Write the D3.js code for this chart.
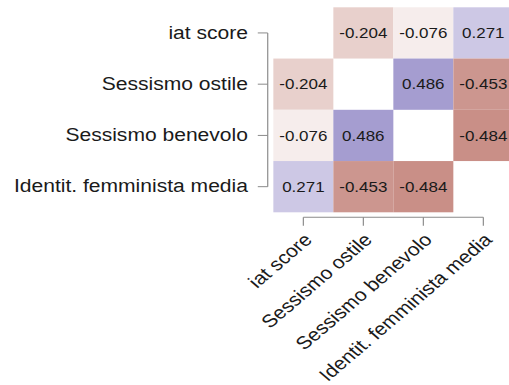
<!DOCTYPE html>
<html>
<head>
<meta charset="utf-8">
<script src="https://cdn.jsdelivr.net/npm/d3@7"></script>
<style>
  html, body { margin: 0; padding: 0; background: #fff; }
  svg { display: block; }
  text { font-family: "Liberation Sans", Arial, Helvetica, sans-serif; }
</style>
</head>
<body>
<svg id="chart"></svg>
<script>
// Variables of the correlation matrix (row/column order)
const variables = [
  "iat score",
  "Sessismo ostile",
  "Sessismo benevolo",
  "Identit. femminista media"
];

// Pairwise correlations (diagonal left empty)
const correlations = [
  [null,   -0.204, -0.076,  0.271],
  [-0.204,  null,   0.486, -0.453],
  [-0.076,  0.486,  null,  -0.484],
  [0.271,  -0.453, -0.484,  null ]
];

// Fill colours at r = -1, 0, +1
const fillStops = ["#8f1807", "#ffffff", "#46359e"];

const W = 509, H = 385;
const VW = 434.8; // square cells in the plot's own units, stretched on output

const svg = d3.select("#chart")
  .attr("width", W)
  .attr("height", H)
  .attr("viewBox", `0 0 ${VW} ${H}`)
  .attr("preserveAspectRatio", "none");

const x = d3.scaleBand().domain(variables).range([233.5, 438.5]).padding(0);
const y = d3.scaleBand().domain(variables).range([7.3, 212.3]).padding(0);
const color = d3.scaleLinear().domain([-1, 0, 1]).range(fillStops);

const cells = [];
correlations.forEach((row, i) => row.forEach((v, j) => {
  if (v !== null) cells.push({ row: variables[i], col: variables[j], value: v });
}));

// Tiles
svg.append("g").selectAll("rect")
  .data(cells)
  .join("rect")
  .attr("x", d => x(d.col))
  .attr("y", d => y(d.row))
  .attr("width", x.bandwidth())
  .attr("height", y.bandwidth())
  .attr("fill", d => color(d.value));

// Values in the tiles (plain hyphen for the sign)
svg.append("g").selectAll("text")
  .data(cells)
  .join("text")
  .attr("x", d => x(d.col) + x.bandwidth() / 2)
  .attr("y", d => y(d.row) + y.bandwidth() / 2)
  .attr("dy", "0.36em")
  .attr("text-anchor", "middle")
  .attr("font-size", 14.5)
  .attr("fill", "#1a1a1a")
  .text(d => d.value.toFixed(3));

const axisColor = "#8a8a8a";
const tickLen = 8.5;

// Left axis, line capped at the outer ticks
const yAxisX = 228.7;
const gy = svg.append("g")
  .attr("transform", `translate(${yAxisX},0)`)
  .call(d3.axisLeft(y).tickSize(tickLen).tickPadding(8.4));
gy.select(".domain").remove();
gy.append("line")
  .attr("x1", 0).attr("x2", 0)
  .attr("y1", y(variables[0]) + y.bandwidth() / 2)
  .attr("y2", y(variables[variables.length - 1]) + y.bandwidth() / 2)
  .attr("stroke", axisColor);
gy.selectAll(".tick line").attr("stroke", axisColor);
gy.selectAll(".tick text")
  .attr("font-size", 18)
  .attr("fill", "#1a1a1a")
  .attr("font-family", "'Liberation Sans', Arial, sans-serif");

// Bottom axis, same capped style, rotated labels
const xAxisY = 217.3;
const gx = svg.append("g")
  .attr("transform", `translate(0,${xAxisY})`)
  .call(d3.axisBottom(x).tickSize(tickLen));
gx.select(".domain").remove();
gx.append("line")
  .attr("y1", 0).attr("y2", 0)
  .attr("x1", x(variables[0]) + x.bandwidth() / 2)
  .attr("x2", x(variables[variables.length - 1]) + x.bandwidth() / 2)
  .attr("stroke", axisColor);
gx.selectAll(".tick line").attr("stroke", axisColor);
gx.selectAll(".tick text")
  .attr("font-size", 18)
  .attr("fill", "#1a1a1a")
  .attr("font-family", "'Liberation Sans', Arial, sans-serif")
  .attr("x", 0)
  .attr("y", 0)
  .attr("dy", "0.71em")
  .attr("text-anchor", "end")
  .attr("transform", `translate(-0.5,${tickLen + 6}) rotate(-45)`);
</script>
</body>
</html>
